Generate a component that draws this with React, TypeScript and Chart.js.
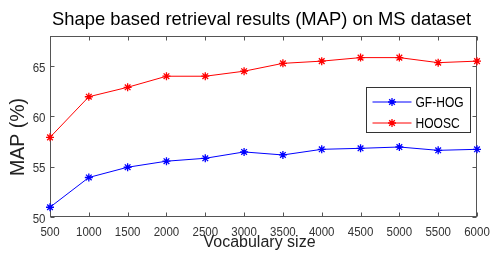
import React, { useEffect, useRef } from 'react';
import { Chart, registerables } from 'chart.js';

Chart.register(...registerables);

const chartTitle = 'Shape based retrieval results (MAP) on MS dataset';
const xAxisTitle = 'Vocabulary size';
const yAxisTitle = 'MAP (%)';
const vocabularySizes = [500, 1000, 1500, 2000, 2500, 3000, 3500, 4000, 4500, 5000, 5500, 6000];
const gfHogValues = [50.97, 53.93, 54.95, 55.55, 55.84, 56.47, 56.17, 56.73, 56.83, 56.96, 56.63, 56.73];
const hooscValues = [57.92, 61.96, 62.9, 64.0, 64.0, 64.5, 65.28, 65.5, 65.85, 65.85, 65.35, 65.5];
const yTickValues = [50, 55, 60, 65];
const seriesNames = ['GF-HOG', 'HOOSC'];
const seriesColors = ['#0000ff', '#ff0000'];

const regularFont = '"Liberation Sans", Arial, Helvetica, sans-serif';
const frameColor = '#555555';
const tickScale = 0.92;
const legendScale = 0.86;

function drawStar(ctx: CanvasRenderingContext2D, x: number, y: number, r: number) {
  const d = r * Math.SQRT1_2;
  ctx.beginPath();
  ctx.moveTo(x - r, y);
  ctx.lineTo(x + r, y);
  ctx.moveTo(x, y - r);
  ctx.lineTo(x, y + r);
  ctx.moveTo(x - d, y - d);
  ctx.lineTo(x + d, y + d);
  ctx.moveTo(x - d, y + d);
  ctx.lineTo(x + d, y - d);
  ctx.stroke();
}

function narrowText(ctx: CanvasRenderingContext2D, text: string, x: number, y: number, align: CanvasTextAlign, sx: number) {
  ctx.save();
  ctx.translate(x, y);
  ctx.scale(sx, 1);
  ctx.textAlign = align;
  ctx.fillText(text, 0, 0);
  ctx.restore();
}

const framePlugin = {
  id: 'matlabFrame',
  beforeDatasetsDraw(chart: any) {
    const { ctx, chartArea, scales } = chart;
    const l = Math.round(chartArea.left) + 0.5;
    const r = Math.round(chartArea.right) - 0.5;
    const t = Math.round(chartArea.top) + 0.5;
    const b = Math.round(chartArea.bottom) - 0.5;
    ctx.save();
    ctx.strokeStyle = frameColor;
    ctx.lineWidth = 1;
    ctx.strokeRect(l, t, r - l, b - t);
    const tl = 4;
    ctx.beginPath();
    scales.x.ticks.forEach((tk: any) => {
      const px = Math.round(scales.x.getPixelForValue(tk.value)) + 0.5;
      ctx.moveTo(px, b);
      ctx.lineTo(px, b - tl);
      ctx.moveTo(px, t);
      ctx.lineTo(px, t + tl);
    });
    scales.y.ticks.forEach((tk: any) => {
      const py = Math.round(scales.y.getPixelForValue(tk.value)) + 0.5;
      ctx.moveTo(l, py);
      ctx.lineTo(l + tl, py);
      ctx.moveTo(r, py);
      ctx.lineTo(r - tl, py);
    });
    ctx.stroke();

    // tick labels
    ctx.fillStyle = '#333333';
    ctx.font = `12.5px ${regularFont}`;
    ctx.textBaseline = 'alphabetic';
    scales.x.ticks.forEach((tk: any) => {
      const px = scales.x.getPixelForValue(tk.value);
      narrowText(ctx, String(tk.value), px, b + 19, 'center', tickScale);
    });
    scales.y.ticks.forEach((tk: any) => {
      const py = scales.y.getPixelForValue(tk.value);
      narrowText(ctx, String(tk.value), l - 5, py + 5.5, 'right', tickScale);
    });
    ctx.restore();
  },
  afterDraw(chart: any) {
    const { ctx, chartArea } = chart;
    const cx = (chartArea.left + chartArea.right) / 2;
    ctx.save();
    ctx.fillStyle = '#000';
    ctx.textAlign = 'center';
    ctx.textBaseline = 'alphabetic';
    ctx.font = `18.4px ${regularFont}`;
    ctx.fillText(chartTitle, cx - 2, 25);
    ctx.font = `16px ${regularFont}`;
    ctx.fillStyle = '#222';
    ctx.fillText(xAxisTitle, cx - 4, 247);
    ctx.save();
    ctx.font = `19.5px ${regularFont}`;
    ctx.translate(24, 137);
    ctx.rotate(-Math.PI / 2);
    ctx.fillText(yAxisTitle, 0, 0);
    ctx.restore();

    // legend
    const bx = Math.round(chartArea.right) - 6.5;
    const by = Math.round(chartArea.top) + 51.5;
    const bw = 104;
    const bh = 45;
    ctx.fillStyle = '#ffffff';
    ctx.fillRect(bx - bw, by, bw, bh);
    ctx.strokeStyle = '#333333';
    ctx.lineWidth = 1;
    ctx.strokeRect(bx - bw, by, bw, bh);
    ctx.font = `14px ${regularFont}`;
    ctx.textBaseline = 'middle';
    chart.data.datasets.forEach((ds: any, i: number) => {
      const rowY = by + 14.5 + i * 21;
      const x0 = bx - bw + 6;
      ctx.strokeStyle = ds.borderColor;
      ctx.lineWidth = 1;
      ctx.beginPath();
      ctx.moveTo(x0, rowY);
      ctx.lineTo(x0 + 39, rowY);
      ctx.stroke();
      ctx.lineWidth = 1.3;
      drawStar(ctx, x0 + 19.5, rowY, 4);
      ctx.fillStyle = '#000';
      narrowText(ctx, ds.label, x0 + 43, rowY + 1, 'left', legendScale);
    });
    ctx.restore();
  },
};

export default function App() {
  const canvasRef = useRef<HTMLCanvasElement | null>(null);

  useEffect(() => {
    if (!canvasRef.current) return;
    const datasets = [gfHogValues, hooscValues].map((vals, i) => ({
      label: seriesNames[i],
      data: vals.map((v, j) => ({ x: vocabularySizes[j], y: v })),
      borderColor: seriesColors[i],
      backgroundColor: seriesColors[i],
      borderWidth: 1,
      pointStyle: 'star',
      pointRadius: 4,
      pointBorderWidth: 1.3,
      pointBorderColor: seriesColors[i],
      tension: 0,
      clip: false,
    }));
    const chart = new Chart(canvasRef.current, {
      type: 'line',
      data: { datasets },
      plugins: [framePlugin],
      options: {
        animation: false,
        responsive: false,
        layout: { padding: { top: 36, right: 13, left: 0, bottom: 0 } },
        plugins: {
          legend: { display: false },
          title: { display: false },
          tooltip: { enabled: false },
        },
        scales: {
          x: {
            type: 'linear',
            min: 500,
            max: 6000,
            grid: { display: false },
            border: { display: false },
            ticks: { stepSize: 500, display: false },
            afterFit: (s: any) => { s.height = 45; },
          },
          y: {
            type: 'linear',
            min: 50,
            max: 68,
            grid: { display: false },
            border: { display: false },
            ticks: { display: false },
            afterBuildTicks: (s: any) => { s.ticks = yTickValues.map((v) => ({ value: v })); },
            afterFit: (s: any) => { s.width = 50; },
          },
        },
      },
    });
    return () => chart.destroy();
  }, []);

  return (
    <div style={{ position: 'fixed', left: 0, top: 0, width: 490, height: 262, background: '#fff' }}>
      <canvas ref={canvasRef} width={490} height={262} style={{ display: 'block' }} />
    </div>
  );
}
